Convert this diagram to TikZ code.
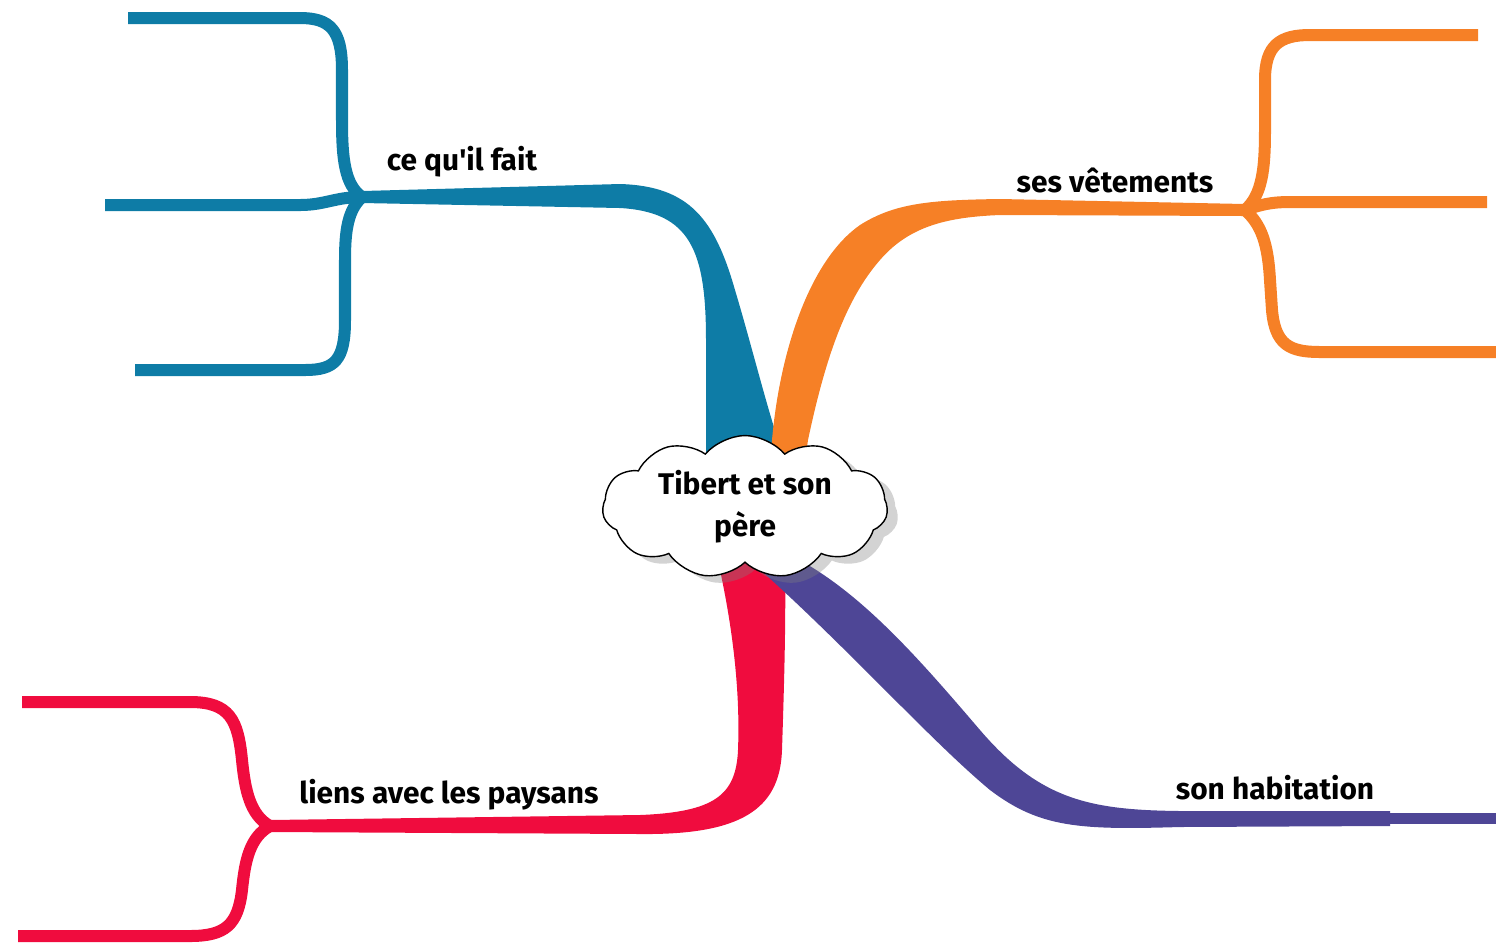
\documentclass[tikz,border=0pt]{standalone}
\usepackage{fontspec}
\setmainfont{Fira Sans}[Ligatures=TeXOff]
\usetikzlibrary{shapes.symbols, shadows}

\definecolor{cblue}{RGB}{14,124,166}
\definecolor{corange}{RGB}{246,128,38}
\definecolor{cred}{RGB}{240,12,62}
\definecolor{cpurple}{RGB}{78,70,150}

\begin{document}
\begin{tikzpicture}[x=0.01cm, y=-0.01cm,
        sub/.style={line width=0.12cm, line cap=butt},
        lbl/.style={font=\fontsize{8.5}{10}\selectfont\bfseries, inner sep=0pt},
        root/.style={cloud, draw, thin, fill=white,
            drop shadow={opacity=0.35, shadow xshift=3pt, shadow yshift=-2pt},
            cloud puffs=11, cloud puff arc=100, aspect=2.3,
            minimum width=2.85cm, minimum height=1.2cm, inner sep=1pt, align=center,
            font=\fontsize{8.5}{12}\selectfont\bfseries}]
        \useasboundingbox (0,0) rectangle (1496,944);

        % fork points
        \coordinate (bf) at (362,197);
        \coordinate (of) at (1245,210);
        \coordinate (rf) at (270,826);

        % main branches
        \fill[cblue] (706,475) -- (706,340) .. controls (706,250) and (690,212) .. (620,208)
            -- (362,203) -- (362,191) -- (620,184) .. controls (690,186) and (715,220) .. (735,290)
            .. controls (750,340) and (765,400) .. (778,440) -- (783,475) -- cycle;
        \fill[corange] (770,475) -- (772,440) .. controls (780,350) and (810,260) .. (860,225)
            .. controls (895,203) and (930,200) .. (1000,199) -- (1245,204) -- (1245,216)
            -- (1000,215) .. controls (950,217) and (910,225) .. (880,260)
            .. controls (845,300) and (825,360) .. (808,440) -- (803,475) -- cycle;
        \fill[cred] (716,540) -- (720,570) .. controls (735,640) and (740,700) .. (738,750)
            .. controls (736,795) and (715,812) .. (640,815) -- (270,820) -- (270,832)
            -- (640,834) .. controls (740,835) and (780,810) .. (782,750)
            .. controls (784,690) and (786,620) .. (785,570) -- (785,540) -- cycle;
        \fill[cpurple] (745,530) -- (790,555) .. controls (860,590) and (920,660) .. (980,730)
            .. controls (1040,800) and (1090,810) .. (1180,811) -- (1390,811) -- (1390,826)
            -- (1180,827) .. controls (1080,830) and (1040,828) .. (990,790)
            .. controls (930,740) and (850,650) .. (755,565) -- (730,545) -- cycle;
        \fill[cpurple] (1390,813) rectangle (1496,824);

        % sub branches
        \draw[sub, cblue] (bf) .. controls (345,185) and (342,160) .. (342,120) -- (342,70)
            .. controls (342,30) and (330,18) .. (300,18) -- (128,18);
        \draw[sub, cblue] (bf) .. controls (335,197) and (325,205) .. (300,205) -- (105,205);
        \draw[sub, cblue] (bf) .. controls (348,210) and (345,230) .. (345,260) -- (345,320)
            .. controls (345,360) and (335,370) .. (305,370) -- (135,370);

        \draw[sub, corange] (of) .. controls (1262,195) and (1265,170) .. (1265,130) -- (1265,80)
            .. controls (1265,45) and (1280,35) .. (1310,35) -- (1478,35);
        \draw[sub, corange] (of) .. controls (1260,205) and (1270,202) .. (1290,202) -- (1487,202);
        \draw[sub, corange] (of) .. controls (1262,225) and (1268,245) .. (1270,280) -- (1272,310)
            .. controls (1275,345) and (1290,352) .. (1320,352) -- (1496,352);

        \draw[sub, cred] (rf) .. controls (250,815) and (245,790) .. (242,760)
            .. controls (238,720) and (230,702) .. (190,702) -- (22,702);
        \draw[sub, cred] (rf) .. controls (250,837) and (245,860) .. (242,890)
            .. controls (238,925) and (225,936) .. (190,936) -- (18,936);

        % labels
        \node[root] (tibert) at (745,507) {Tibert et son\\père};
        \node[lbl] (fait) at (462,162) {ce qu'il fait};
        \node[lbl] (vetements) at (1115,180) {ses vêtements};
        \node[lbl] (paysans) at (449,795) {liens avec les paysans};
        \node[lbl] (habitation) at (1275,788) {son habitation};
\end{tikzpicture}
\end{document}
